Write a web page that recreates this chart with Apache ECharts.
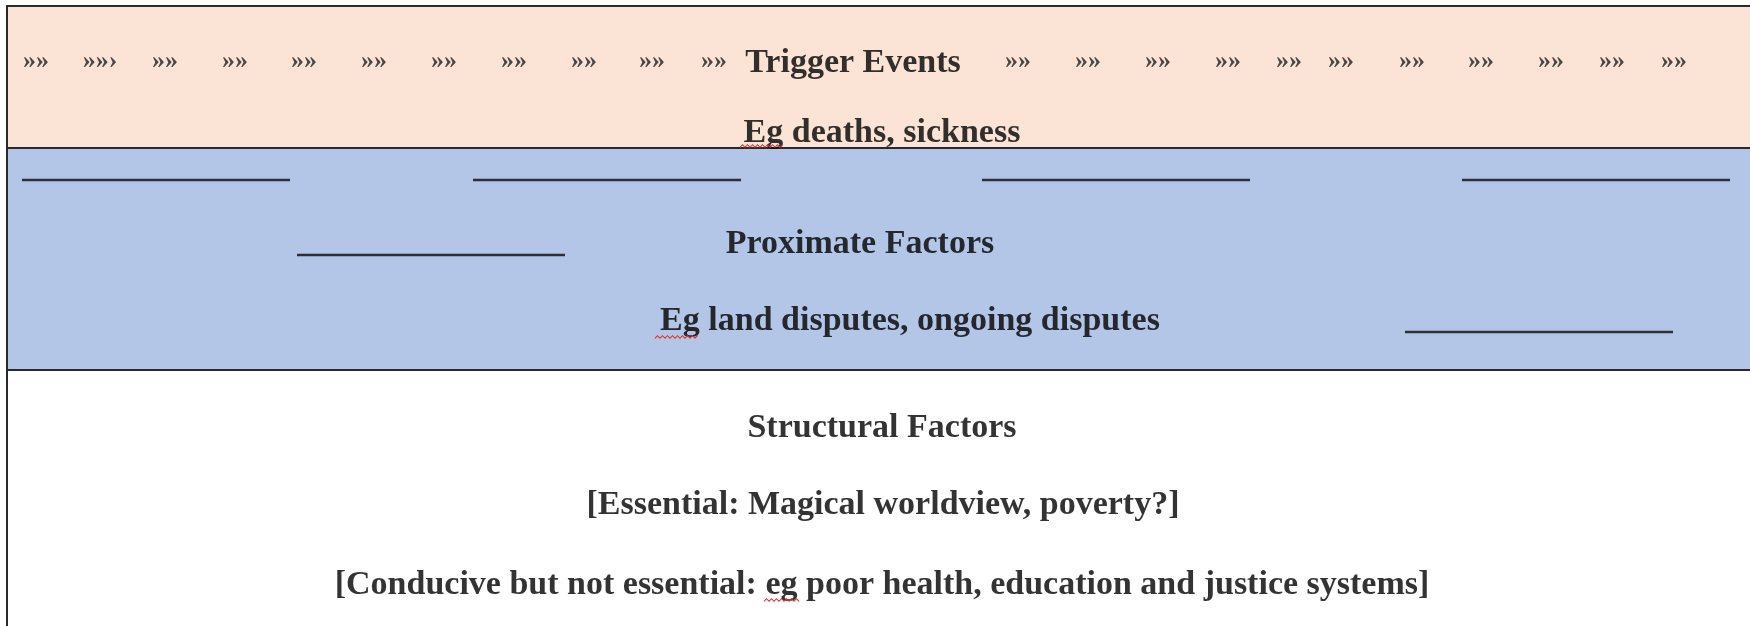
<!DOCTYPE html>
<html>
<head>
<meta charset="utf-8">
<script src="https://cdn.jsdelivr.net/npm/echarts@6/dist/echarts.min.js"></script>
<style>
html,body{margin:0;padding:0;background:#ffffff;}
#chart{width:1750px;height:626px;}
</style>
</head>
<body>
<div id="chart"></div>
<script>
// ---- data (diagram coordinates: x 0..1750, y 0..626 top-down) ----
const bandNames = ['Trigger Events', 'Proximate Factors', 'Structural Factors'];
const bandTop = [6, 148, 370];
const bandBottom = [148, 370, 720];
const bandLeft = 7;
const bandRight = 1765;

const chevronX = [36, 100, 165, 235, 304, 374, 444, 514, 584, 652, 714,
                  1018, 1088, 1158, 1228, 1289, 1341, 1412, 1481, 1551, 1612, 1674];
const chevronCount = [4, 5, 4, 4, 4, 4, 4, 4, 4, 4, 4,
                      4, 4, 4, 4, 4, 4, 4, 4, 4, 4, 4];
const chevronY = 61;

const labels = [
  'Trigger Events',
  'Eg deaths, sickness',
  'Proximate Factors',
  'Eg land disputes, ongoing disputes',
  'Structural Factors',
  '[Essential: Magical worldview, poverty?]',
  '[Conducive but not essential: eg poor health, education and justice systems]'
];
const labelX = [853, 882, 860, 910, 882, 883, 882];
const labelY = [63, 133, 244, 321, 428, 505, 585];

const blankStart = [22, 473, 982, 1462, 297, 1405];
const blankY = [180, 180, 180, 180, 255, 332];
const blankLength = 268;

const squiggleStart = [740, 655, 764];
const squiggleEnd = [784, 699, 800];
const squiggleY = [146, 337, 600];

// ---- styles ----
const bandColors = ['#FBE3D6', '#B4C6E7', '#FFFFFF'];
const inkColor = '#000000';
const lineColor = '#2b2f36';
const fontFamily = '"Liberation Serif", "Times New Roman", serif';

function chevronText(n) {
  let s = '';
  for (let i = 0; i < Math.floor(n / 2); i++) s += '\u00BB';
  if (n % 2) s += '\u203A';
  return s;
}

const chart = echarts.init(document.getElementById('chart'), null, {renderer: 'canvas'});

const option = {
  animation: false,
  backgroundColor: '#ffffff',
  grid: {left: 0, right: 0, top: 0, bottom: 0},
  xAxis: {type: 'value', min: 0, max: 1750, show: false},
  yAxis: {type: 'value', min: 0, max: 626, inverse: true, show: false},
  series: [
    {
      type: 'custom',
      name: 'bands',
      silent: true,
      z: 1,
      data: bandNames.map((n, i) => [bandLeft, bandTop[i], bandRight, bandBottom[i]]),
      renderItem: function (params, api) {
        const p0 = api.coord([api.value(0), api.value(1)]);
        const p1 = api.coord([api.value(2), api.value(3)]);
        return {
          type: 'rect',
          shape: {x: p0[0], y: p0[1], width: p1[0] - p0[0], height: p1[1] - p0[1]},
          style: {fill: bandColors[params.dataIndex], stroke: '#2a2a2a', lineWidth: 2}
        };
      }
    },
    {
      type: 'lines',
      name: 'blanks',
      coordinateSystem: 'cartesian2d',
      silent: true,
      z: 3,
      lineStyle: {color: lineColor, width: 2.4, opacity: 1},
      data: blankStart.map((x, i) => ({coords: [[x, blankY[i]], [x + blankLength, blankY[i]]]}))
    },
    {
      type: 'custom',
      name: 'squiggles',
      silent: true,
      z: 7,
      data: squiggleStart.map((x, i) => [x, squiggleEnd[i], squiggleY[i]]),
      renderItem: function (params, api) {
        const a = api.coord([api.value(0), api.value(2)]);
        const b = api.coord([api.value(1), api.value(2)]);
        const pts = [];
        let k = 0;
        for (let x = a[0]; x <= b[0]; x += 2.5, k++) {
          pts.push([x, a[1] + (k % 2 ? -1.3 : 1.3)]);
        }
        return {
          type: 'polyline',
          shape: {points: pts},
          style: {stroke: '#e0302a', lineWidth: 1.1, fill: null}
        };
      }
    },
    {
      type: 'scatter',
      name: 'chevrons',
      silent: true,
      symbolSize: 0,
      z: 5,
      data: chevronX.map((x, i) => ({value: [x, chevronY], text: chevronText(chevronCount[i])})),
      label: {
        show: true,
        position: 'inside',
        formatter: p => p.data.text,
        fontFamily: fontFamily,
        fontSize: 26,
        fontWeight: 'bold',
        color: '#1e1e1e'
      }
    },
    {
      type: 'scatter',
      name: 'labels',
      silent: true,
      symbolSize: 0,
      z: 6,
      data: labels.map((t, i) => ({value: [labelX[i], labelY[i]], text: t})),
      label: {
        show: true,
        position: 'inside',
        formatter: p => p.data.text,
        fontFamily: fontFamily,
        fontSize: 34,
        fontWeight: 'bold',
        color: inkColor
      }
    }
  ]
};
chart.setOption(option);
</script>
</body>
</html>
